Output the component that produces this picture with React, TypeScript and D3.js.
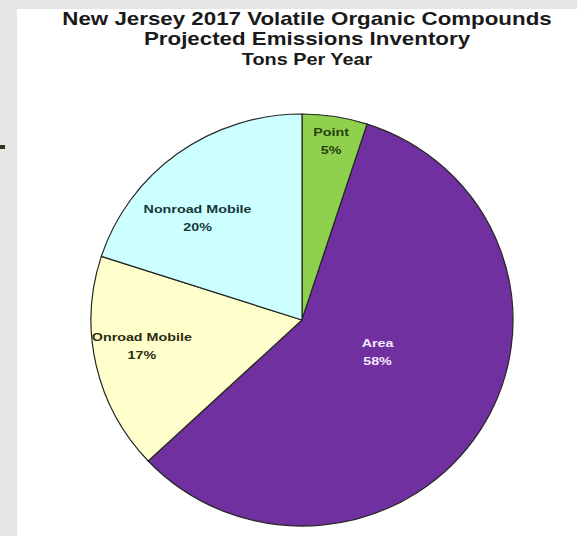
import React from "react";
import * as d3 from "d3";

const categories = ["Point", "Area", "Onroad Mobile", "Nonroad Mobile"];
const shares = [5, 58, 17, 20];
const colors = ["#8fd14f", "#7030a0", "#ffffcc", "#ccffff"];
const labelColors = ["#26400c", "#f3e6ff", "#2b2b10", "#163838"];
const titleLines = [
  "New Jersey 2017 Volatile Organic Compounds",
  "Projected Emissions Inventory",
];
const subtitle = "Tons Per Year";

// label placement: fraction of the radius, and a turn (degrees) off the slice's mid angle
const labelRadius = [0.88, 0.39, 0.77, 0.7];
const labelTurn = [0, -9, 3, -9];

export default function App() {
  const W = 577;
  const H = 536;
  const cx = 302;
  const cy = 320;
  const r = 206;
  const sx = 211 / 206; // the reference pie is a touch wider than tall
  const tx = 1.24; // the reference lettering is stretched sideways

  const pie = d3
    .pie<number>()
    .sort(null)
    .value((d) => d)
    .startAngle(0)
    .endAngle(2 * Math.PI);
  const arcs = pie(shares);
  const arc = d3.arc<d3.PieArcDatum<number>>().innerRadius(0).outerRadius(r);

  const labelPos = (a: d3.PieArcDatum<number>, i: number) => {
    const mid = (a.startAngle + a.endAngle) / 2 + (labelTurn[i] * Math.PI) / 180;
    const k = labelRadius[i];
    return [Math.sin(mid) * r * k * sx, -Math.cos(mid) * r * k];
  };

  const font = "Liberation Sans, Arial, sans-serif";

  return (
    <div style={{ position: "fixed", left: 0, top: 0 }}>
      <svg width={W} height={H} style={{ display: "block" }}>
        <rect x={0} y={0} width={W} height={H} fill="#e5e5e5" />
        <rect x={17} y={9} width={W - 17} height={H - 9} fill="#ffffff" />
        <rect x={0} y={145} width={5} height={4} fill="#2e3320" />
        <g
          transform={`translate(307,0) scale(${tx},1)`}
          fontFamily={font}
          fontWeight="bold"
          textAnchor="middle"
          fill="#1a1a1a"
        >
          {titleLines.map((t, i) => (
            <text key={t} x={0} y={25 + i * 20} fontSize={18}>
              {t}
            </text>
          ))}
          <text x={0} y={65} fontSize={16}>
            {subtitle}
          </text>
        </g>
        <g transform={`translate(${cx},${cy}) scale(${sx},1)`}>
          {arcs.map((a, i) => (
            <path
              key={categories[i]}
              d={arc(a) || ""}
              fill={colors[i]}
              stroke="#262626"
              strokeWidth={1.2}
              vectorEffect="non-scaling-stroke"
            />
          ))}
        </g>
        <g transform={`translate(${cx},${cy})`} fontFamily={font} fontWeight="bold" fontSize={11} textAnchor="middle">
          {arcs.map((a, i) => {
            const [lx, ly] = labelPos(a, i);
            return (
              <g key={categories[i]} transform={`translate(${lx},${ly}) scale(1.3,1)`} fill={labelColors[i]}>
                <text x={0} y={-5}>
                  {categories[i]}
                </text>
                <text x={0} y={13}>
                  {shares[i]}%
                </text>
              </g>
            );
          })}
        </g>
      </svg>
    </div>
  );
}
